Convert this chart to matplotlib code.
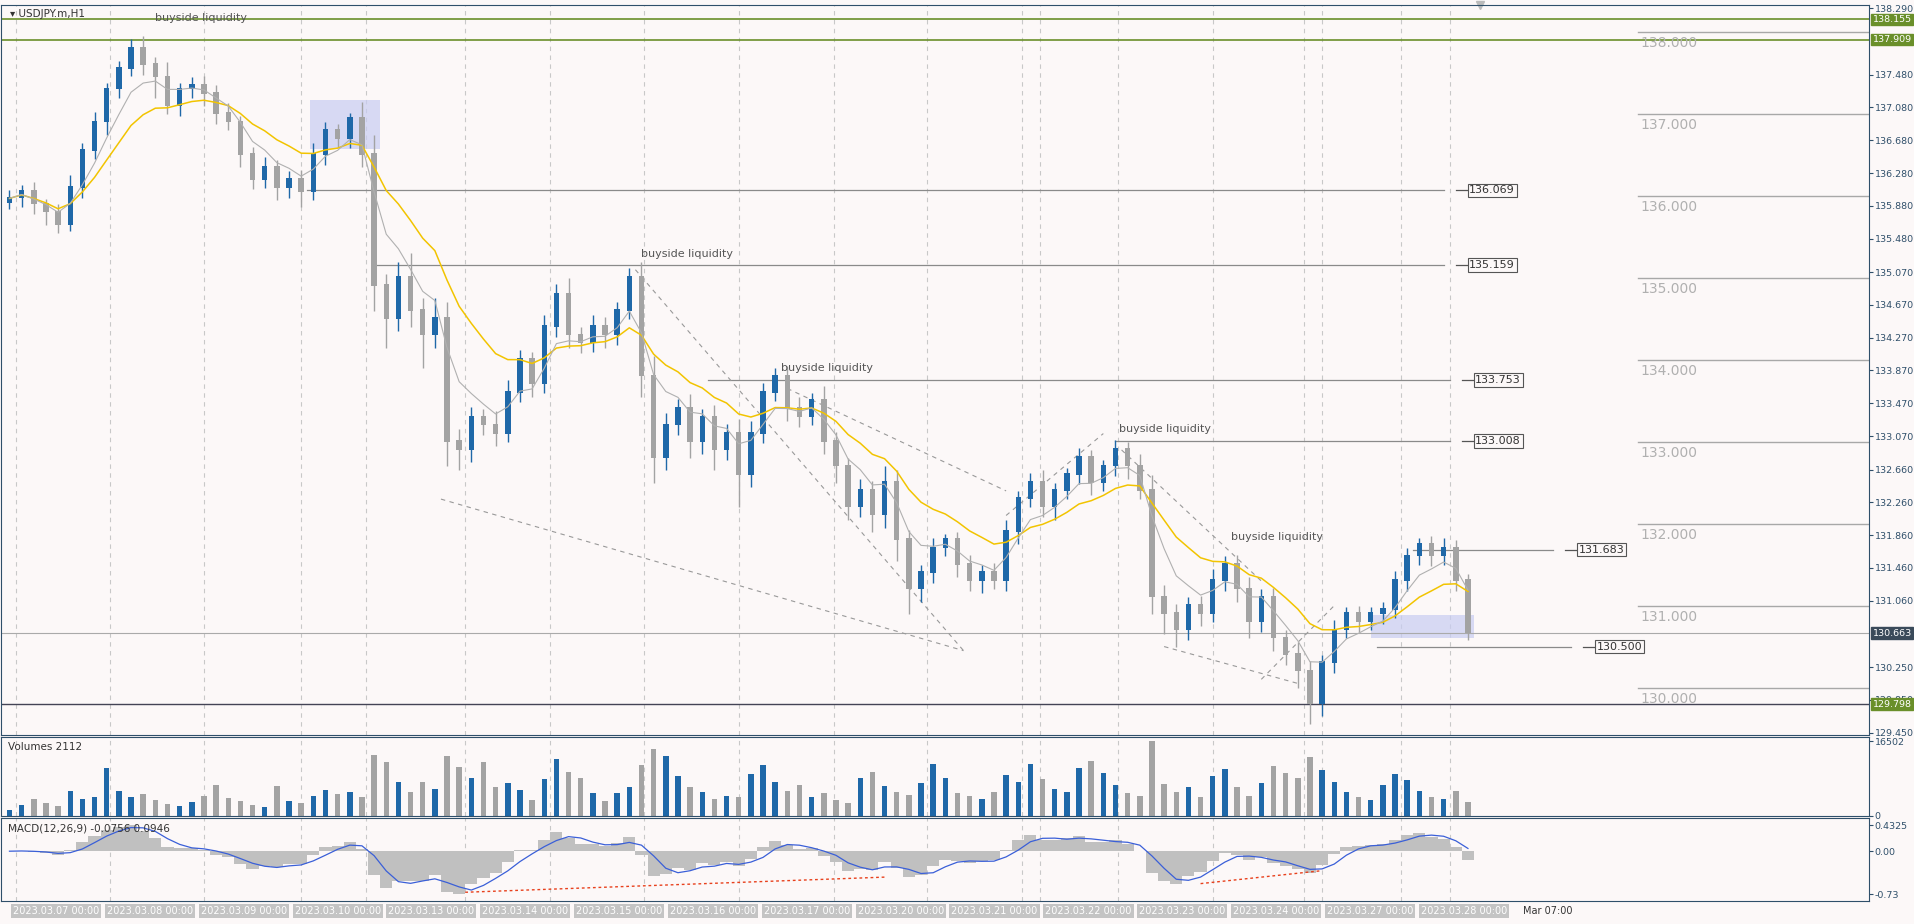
import numpy as np
import pandas as pd
import matplotlib
matplotlib.use("Agg")
import matplotlib.pyplot as plt
from matplotlib.patches import Rectangle

closes = [135.97,136.05,135.9,135.8,135.65,136.1,136.55,136.9,137.3,137.55,137.8,137.6,137.45,137.1,137.3,137.35,
          137.25,137.0,136.9,136.5,136.2,136.35,136.1,136.2,136.05,136.5,136.8,136.7,136.95,136.5,134.9,134.5,
          135.0,134.6,134.3,134.5,133.0,132.9,133.3,133.2,133.1,133.6,134.0,133.7,134.4,134.8,134.3,134.2,
          134.4,134.3,134.6,135.0,133.8,132.8,133.2,133.4,133.0,133.3,132.9,133.1,132.6,133.1,133.6,133.8,
          133.4,133.3,133.5,133.0,132.7,132.2,132.4,132.1,132.5,131.8,131.2,131.4,131.7,131.8,131.5,131.3,
          131.4,131.3,131.9,132.3,132.5,132.2,132.4,132.6,132.8,132.5,132.7,132.9,132.7,132.4,131.1,130.9,
          130.7,131.0,130.9,131.3,131.5,131.2,130.8,131.1,130.6,130.4,130.2,129.8,130.3,130.7,130.9,130.8,
          130.9,130.95,131.3,131.6,131.75,131.6,131.7,131.3,130.66]
wicks_up = [0.10,0.08,0.12,0.06,0.10,0.15,0.10,0.12,0.08,0.10,0.12,0.15,0.10,0.18,0.08,0.10,
            0.12,0.10,0.14,0.08,0.10,0.12,0.09,0.10,0.12,0.15,0.10,0.08,0.06,0.20,0.25,0.15,
            0.20,0.30,0.15,0.25,0.20,0.15,0.12,0.10,0.18,0.15,0.12,0.10,0.15,0.12,0.20,0.10,
            0.15,0.12,0.10,0.12,0.20,0.25,0.15,0.12,0.18,0.10,0.15,0.12,0.18,0.15,0.12,0.10,
            0.12,0.15,0.10,0.18,0.12,0.10,0.15,0.12,0.20,0.15,0.12,0.10,0.12,0.08,0.10,0.12,
            0.10,0.12,0.15,0.10,0.12,0.15,0.10,0.08,0.12,0.10,0.08,0.12,0.10,0.15,0.20,0.15,
            0.12,0.10,0.12,0.15,0.10,0.12,0.15,0.10,0.12,0.10,0.15,0.12,0.10,0.12,0.08,0.10,
            0.08,0.10,0.12,0.10,0.08,0.10,0.12,0.10,0.08]
wicks_dn = [0.08,0.10,0.12,0.15,0.10,0.08,0.12,0.10,0.15,0.10,0.08,0.12,0.25,0.10,0.12,0.10,
            0.15,0.12,0.10,0.15,0.12,0.10,0.15,0.12,0.18,0.10,0.12,0.10,0.12,0.15,0.30,0.35,
            0.15,0.20,0.40,0.15,0.30,0.25,0.15,0.12,0.15,0.10,0.12,0.15,0.10,0.12,0.15,0.12,
            0.10,0.15,0.12,0.10,0.25,0.30,0.15,0.12,0.20,0.15,0.25,0.12,0.40,0.15,0.12,0.10,
            0.15,0.12,0.10,0.15,0.20,0.15,0.12,0.20,0.15,0.25,0.30,0.15,0.12,0.10,0.15,0.12,
            0.15,0.10,0.12,0.15,0.10,0.12,0.15,0.10,0.12,0.15,0.10,0.12,0.15,0.10,0.20,0.25,
            0.20,0.12,0.15,0.10,0.12,0.15,0.20,0.12,0.15,0.12,0.20,0.25,0.15,0.12,0.10,0.12,
            0.10,0.12,0.10,0.12,0.10,0.12,0.10,0.12,0.08]
volumes = [1.2,2.5,3.8,2.9,2.1,5.5,3.8,4.1,10.5,5.6,4.2,4.8,3.5,2.6,2.2,3.1,
           4.5,6.8,4.0,3.3,2.5,2.0,6.7,3.2,2.8,4.4,5.7,4.9,5.3,4.1,13.5,12.0,
           7.5,5.2,7.4,5.9,13.2,10.8,8.5,12.0,6.5,7.2,5.8,3.5,8.2,12.5,9.8,8.4,
           5.1,3.2,5.0,6.5,11.2,14.8,13.3,8.8,6.3,5.2,3.8,4.4,4.1,9.2,11.2,7.4,
           5.5,6.8,4.2,5.0,3.6,2.8,8.4,9.8,6.6,5.4,4.6,7.2,11.5,8.3,5.1,4.3,
           3.7,5.2,9.0,7.5,11.4,8.2,6.0,5.4,10.5,12.2,9.6,6.8,5.1,4.4,16.5,7.0,
           5.2,6.3,4.1,8.8,10.3,6.5,4.4,7.2,11.0,9.4,8.5,13.0,10.2,7.6,5.3,4.1,
           3.5,6.8,9.3,8.0,5.5,4.2,3.8,5.5,3.0]
price_ticks = [138.290,137.480,137.080,136.680,136.280,135.880,135.480,135.070,134.670,134.270,
               133.870,133.470,133.070,132.660,132.260,131.860,131.460,131.060,130.250,129.850,129.450]
round_levels = [138.0,137.0,136.0,135.0,134.0,133.0,132.0,131.0,130.0]
liq_levels = [136.069,135.159,133.753,133.008,131.683,130.500]
liq_start = [24.5,30.0,57.5,91.0,115.5,112.5]
liq_end = [118.0,118.0,118.5,118.5,127.0,128.5]
liq_text_pos = [(12.0,138.14),(52.0,135.25),(63.5,133.86),(91.3,133.12),(100.5,131.8)]
date_labels = ["2023.03.07 00:00","2023.03.08 00:00","2023.03.09 00:00","2023.03.10 00:00","2023.03.13 00:00",
               "2023.03.14 00:00","2023.03.15 00:00","2023.03.16 00:00","2023.03.17 00:00","2023.03.20 00:00",
               "2023.03.21 00:00","2023.03.22 00:00","2023.03.23 00:00","2023.03.24 00:00","2023.03.27 00:00",
               "2023.03.28 00:00"]
day_lines = [0.5,8.3,16.0,24.0,29.3,37.5,44.5,52.2,60.0,67.8,75.5,83.3,84.8,91.2,99.0,106.5,108.0,114.5,118.5]

BG = "#fcf8f8"
BLUE = "#1f68a8"
GRAY = "#a3a3a3"
n = len(closes)
x = np.arange(n)
c = np.array(closes)
o = np.concatenate([[c[0]-0.05], c[:-1]])
h = np.maximum(o, c) + np.array(wicks_up)
l = np.minimum(o, c) - np.array(wicks_dn)

fig = plt.figure(figsize=(19.15, 9.24), dpi=100, facecolor=BG)
W = 0.9755
ax = fig.add_axes([0.0005, 0.2045, W, 0.79], facecolor=BG)
axv = fig.add_axes([0.0005, 0.117, W, 0.0855], facecolor=BG, sharex=ax)
axm = fig.add_axes([0.0005, 0.025, W, 0.09], facecolor=BG, sharex=ax)
XMAX = 153
for a in (ax, axv, axm):
    a.set_xlim(-0.7, XMAX)
    for s_ in a.spines.values():
        s_.set_color("#2f4f6a")
    a.tick_params(axis='x', bottom=False, labelbottom=False)
    a.yaxis.tick_right()
    a.tick_params(axis='y', labelsize=6.8, colors="#2f4f6a", length=3, pad=1)
    for d in day_lines:
        a.axvline(d, color="#c8c8c8", lw=0.8, ls=(0, (4, 4)), zorder=0)

# main
ax.set_ylim(129.42, 138.33)
ax.set_yticks(price_ticks)
ax.set_yticklabels([f"{t:.3f}" for t in price_ticks])
cols = [BLUE if cc >= oo else GRAY for oo, cc in zip(o, c)]
ax.vlines(x, l, h, colors=cols, lw=1, zorder=3)
ax.bar(x, np.abs(c-o)+0.02, bottom=np.minimum(o, c), width=0.45, color=cols, zorder=4)
s = pd.Series(c)
ax.plot(x, s.ewm(span=12).mean(), color="#f2c400", lw=1.1, zorder=5)
ax.plot(x, s.ewm(span=5).mean(), color="#b0b0b0", lw=0.8, zorder=5)

for lv in round_levels:
    ax.plot([134, XMAX], [lv, lv], color="#a8a8a8", lw=1)
    ax.text(134.2, lv-0.05, f"{lv:.3f}", color="#b0b0b0", fontsize=10, va="top")
for lv, s0, s1 in zip(liq_levels, liq_start, liq_end):
    ax.plot([s0, s1], [lv, lv], color="#8a8a8a", lw=0.9)
    ax.plot([s1+1, s1+2], [lv, lv], color="#555", lw=0.9)
    ax.text(s1+2.1, lv, f"{lv:.3f}", fontsize=8, va="center", color="#333",
            bbox=dict(boxstyle="square,pad=0.15", fc=BG, ec="#555", lw=0.8))
for tx, ty in liq_text_pos:
    ax.text(tx, ty, "buyside liquidity", fontsize=8, color="#555")
ax.axhline(138.155, color="#6a8f2a", lw=1.2)
ax.axhline(137.909, color="#6a8f2a", lw=1.2)
ax.axhline(130.663, color="#aaaaaa", lw=0.8)
ax.axhline(129.798, color="#445", lw=1)
for lv, fc in [(138.155, "#6a8f2a"), (137.909, "#6a8f2a"), (130.663, "#3a4a5a"), (129.798, "#6a8f2a")]:
    ax.text(1.002, lv, f"{lv:.3f}", transform=ax.get_yaxis_transform(), fontsize=6.8, color="white",
            va="center", bbox=dict(boxstyle="square,pad=0.15", fc=fc, ec=fc))
ax.add_patch(Rectangle((24.7, 136.57), 5.8, 0.6, fc="#c8cdf2", ec="none", alpha=0.7, zorder=1))
ax.add_patch(Rectangle((112.0, 130.6), 8.5, 0.28, fc="#c8cdf2", ec="none", alpha=0.7, zorder=1))
for (x0, y0, x1, y1) in [(51.5, 135.1, 78.5, 130.45), (35.5, 132.3, 78.5, 130.45), (64, 133.65, 82, 132.4),
                         (82, 132.1, 90, 133.1), (91.5, 132.9, 103, 131.3), (95, 130.5, 106, 130.05),
                         (103, 130.1, 109, 131.0)]:
    ax.plot([x0, x1], [y0, y1], color="#999", lw=0.8, ls=(0, (4, 4)))
ax.text(0.005, 0.995, "▾ USDJPY.m,H1", transform=ax.transAxes, fontsize=7.5, va="top", color="#333")
ax.plot([121], [138.33], marker="v", color="#bbb", ms=6, clip_on=False)

# volumes
axv.bar(x, np.array(volumes)*1000, width=0.45, color=cols)
axv.set_ylim(0, 17500)
axv.set_yticks([0, 16502])
axv.set_yticklabels(["0", "16502"])
axv.text(0.004, 0.93, "Volumes 2112", transform=axv.transAxes, fontsize=7.5, va="top", color="#333")

# MACD
ema_f = s.ewm(span=3).mean()
ema_s = s.ewm(span=7).mean()
macd = ema_f - ema_s
sig = macd.rolling(3, min_periods=1).mean()
axm.bar(x, macd, width=1.0, color="#c0c0c0")
axm.plot(x, sig, color="#3a5fd8", lw=0.9)
lo, hi = macd.min(), macd.max()
axm.set_ylim(lo*1.15, hi*1.3)
axm.set_yticks([hi, 0, lo])
axm.set_yticklabels([f"{hi:.4f}", "0.00", f"{lo:.2f}"])
axm.plot([37.5, 72], [lo*0.95, lo*0.6], color="#e8401c", lw=1, ls=(0, (2, 2)))
axm.plot([98, 108], [lo*0.75, lo*0.45], color="#e8401c", lw=1, ls=(0, (2, 2)))
axm.text(0.004, 0.93, "MACD(12,26,9) -0.0756 0.0946", transform=axm.transAxes, fontsize=7.5, va="top", color="#333")

# dates
for i, lab in enumerate(date_labels):
    xp = i*7.72 + 0.3
    axm.text(xp, -0.12, lab, transform=axm.get_xaxis_transform(), fontsize=7, color="white",
             va="center", ha="left", bbox=dict(boxstyle="square,pad=0.2", fc="#c4c4c4", ec="none"), clip_on=False)
axm.text(124.5, -0.12, "Mar 07:00", transform=axm.get_xaxis_transform(), fontsize=7, color="#333",
         va="center", ha="left")

fig.savefig("out.png", dpi=100, facecolor=BG)
